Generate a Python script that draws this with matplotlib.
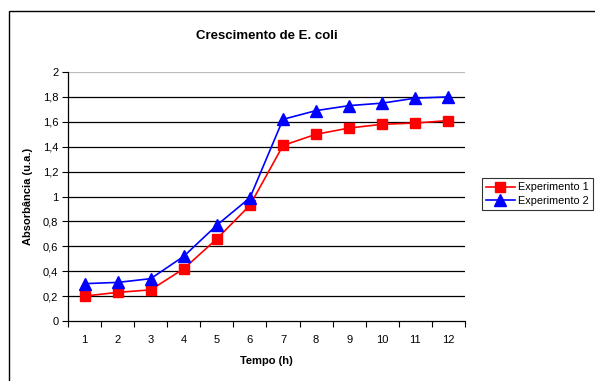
import matplotlib
matplotlib.use('Agg')
import matplotlib.pyplot as plt
from matplotlib.patches import Rectangle
from matplotlib.ticker import FuncFormatter, FixedLocator

plt.rcParams['font.family'] = ['Liberation Sans', 'DejaVu Sans']

tempo = [1, 2, 3, 4, 5, 6, 7, 8, 9, 10, 11, 12]
exp1 = [0.20, 0.23, 0.25, 0.42, 0.66, 0.93, 1.41, 1.50, 1.55, 1.58, 1.59, 1.61]
exp2 = [0.30, 0.31, 0.34, 0.52, 0.77, 0.99, 1.62, 1.69, 1.73, 1.75, 1.79, 1.80]
labels = ['Experimento 1', 'Experimento 2']

fig = plt.figure(figsize=(5.95, 3.81), dpi=100)
fig.patches.append(Rectangle((9 / 595, -0.1), 1.1, 1 - 11 / 381 + 0.1,
                             transform=fig.transFigure, fill=False,
                             edgecolor='black', linewidth=1.0))

ax = fig.add_axes([68 / 595, 60 / 381, 397 / 595, 249 / 381])
ax.plot(tempo, exp1, color='#ff0000', marker='s', markersize=7, linewidth=1.2,
        label=labels[0], zorder=3)
ax.plot(tempo, exp2, color='#0000ff', marker='^', markersize=8.5, linewidth=1.2,
        label=labels[1], zorder=3)

ax.set_xlim(0.5, 12.5)
ax.set_ylim(0, 2)
ax.set_yticks([i * 0.2 for i in range(11)])
ax.yaxis.set_major_formatter(FuncFormatter(lambda v, p: ('%g' % round(v, 1)).replace('.', ',')))
ax.set_xticks(tempo)
ax.xaxis.set_minor_locator(FixedLocator([i + 0.5 for i in range(0, 13)]))
ax.tick_params(axis='x', which='major', length=0, labelsize=8, pad=10)
ax.tick_params(axis='x', which='minor', length=4, direction='out', width=0.8)
ax.tick_params(axis='y', length=4, direction='out', width=0.8, labelsize=8, pad=3)

for v in [i * 0.2 for i in range(1, 11)]:
    ax.axhline(v, color='black' if v < 1.99 else '#bbbbbb', linewidth=0.9, zorder=1)

ax.spines['top'].set_visible(False)
ax.spines['right'].set_visible(False)
ax.spines['left'].set_linewidth(0.9)
ax.spines['bottom'].set_linewidth(0.9)

ax.set_title('Crescimento de E. coli', fontsize=9.5, fontweight='bold', pad=24)
ax.set_xlabel('Tempo (h)', fontsize=8, fontweight='bold', labelpad=8)
ax.set_ylabel('Absorbância (u.a.)', fontsize=8, fontweight='bold', labelpad=7)

leg = fig.legend(loc='upper left', bbox_to_anchor=(482 / 595, 1 - 178 / 381),
                 borderaxespad=0, fancybox=False, frameon=True, fontsize=7.8,
                 handlelength=2.6, handletextpad=0.3, borderpad=0.4, labelspacing=0.35)
leg.get_frame().set_edgecolor('black')
leg.get_frame().set_linewidth(0.8)

fig.savefig('out.png', dpi=100)
